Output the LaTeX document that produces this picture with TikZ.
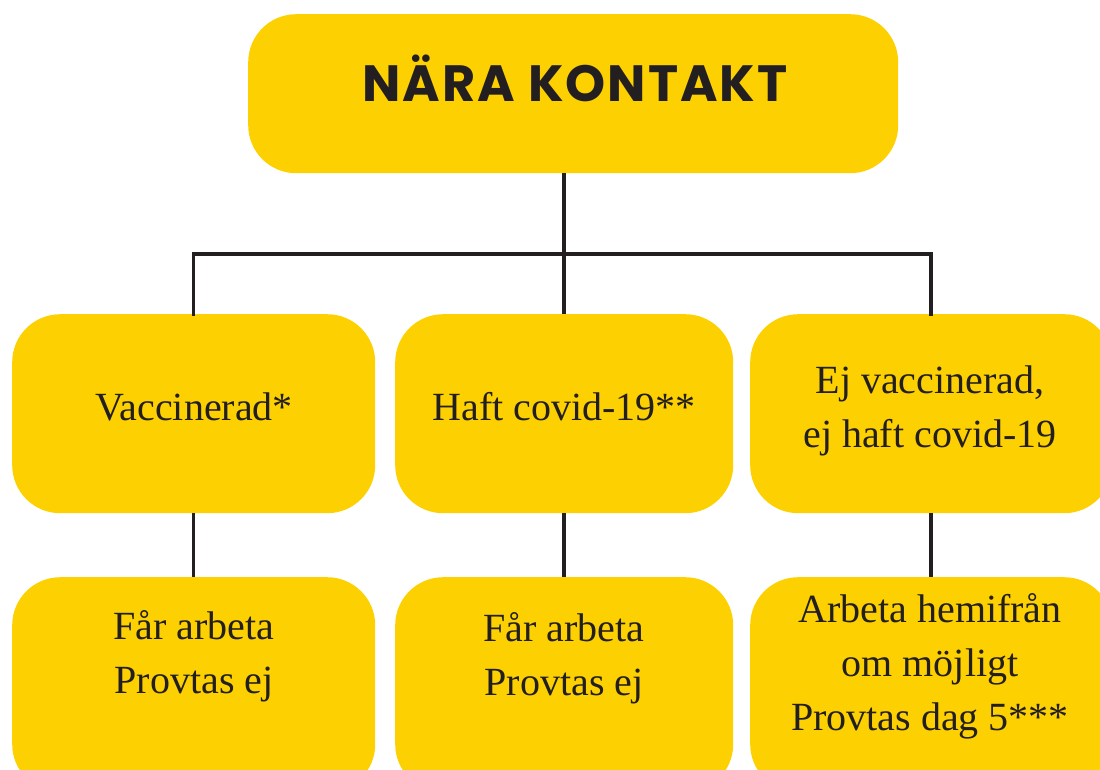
\documentclass[tikz,border=0pt]{standalone}
\usepackage{fontspec}
\setmainfont{Liberation Serif}
\newfontfamily\titlefont{Poppins}[LetterSpace=4]
\definecolor{boxyellow}{RGB}{253,208,2}
\definecolor{inkdark}{RGB}{35,31,32}
\begin{document}
\begin{tikzpicture}[x=1pt,y=-1pt,
  box/.style={fill=boxyellow, draw=none, rounded corners=48pt, inner sep=0pt, anchor=north west},
  boxtext/.style={text=inkdark, align=center, font=\fontsize{40}{54}\selectfont, inner sep=0pt},
  conn/.style={draw=inkdark, line width=3.5pt}]
\useasboundingbox (0,0) rectangle (1100,769);
\clip (0,0) rectangle (1100,769);
% boxes
\node[box, minimum width=650pt, minimum height=159pt] (top) at (248,14) {};
\node[box, minimum width=363pt, minimum height=199pt] (m1) at (12,314) {};
\node[box, minimum width=338pt, minimum height=199pt] (m2) at (395,314) {};
\node[box, minimum width=362pt, minimum height=199pt] (m3) at (750,314) {};
\node[box, minimum width=363pt, minimum height=215pt] (b1) at (12,577) {};
\node[box, minimum width=338pt, minimum height=215pt] (b2) at (395,577) {};
\node[box, minimum width=362pt, minimum height=215pt] (b3) at (750,577) {};
% connectors
\coordinate (bus) at (564,254);
\draw[conn] (m2.north |- top.south) -- (m2.north);
\draw[conn, line cap=rect] (m1.north) -- (m1.north |- bus) -- (m3.north |- bus) -- (m3.north);
\draw[conn] (m1.south) -- (b1.north);
\draw[conn] (m2.south) -- (b2.north);
\draw[conn] (m3.south) -- (b3.north);
% texts
\node[text=inkdark, inner sep=0pt, anchor=base, font=\titlefont\bfseries\fontsize{51}{60}\selectfont] (ttop) at (575,101) {NÄRA KONTAKT};
\node[boxtext, anchor=base] (t1) at (194,420) {Vaccinerad*};
\node[boxtext, anchor=base] (t2) at (564,420) {Haft covid-19**};
\node[boxtext, anchor=base] (t3) at (930,447) {Ej vaccinerad,\\ej haft covid-19};
\node[boxtext, anchor=base] (t4) at (194,693) {Får arbeta\\Provtas ej};
\node[boxtext, anchor=base] (t5) at (564,695) {Får arbeta\\Provtas ej};
\node[boxtext, anchor=base] (t6) at (930,730) {Arbeta hemifrån\\om möjligt\\Provtas dag 5***};
\end{tikzpicture}
\end{document}
